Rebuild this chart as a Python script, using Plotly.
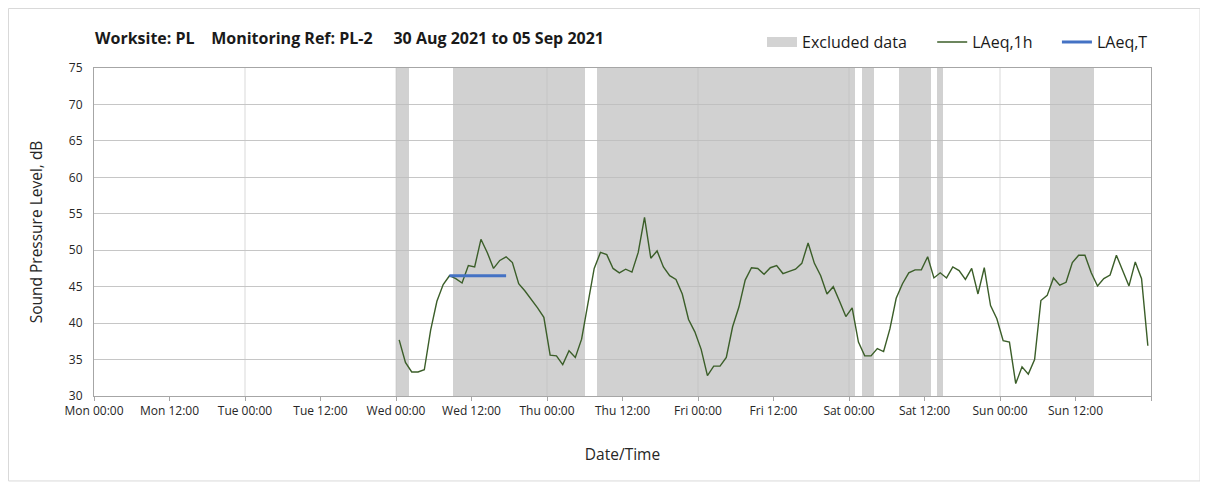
import pandas as pd
import plotly.graph_objects as go

# ---------------- data ----------------
series_start = "2021-09-01 00:30"
laeq_1h = [37.7, 34.6, 33.3, 33.3, 33.6, 39.0, 43.0, 45.3, 46.5, 46.1,
           45.5, 47.9, 47.7, 51.5, 49.7, 47.5, 48.6, 49.1, 48.3, 45.4,
           44.4, 43.3, 42.1, 40.8, 35.6, 35.5, 34.3, 36.2, 35.3, 37.8,
           42.9, 47.5, 49.7, 49.4, 47.5, 46.9, 47.4, 47.0, 49.7, 54.5,
           48.9, 49.9, 47.7, 46.5, 46.0, 44.0, 40.5, 38.8, 36.4, 32.8,
           34.1, 34.1, 35.3, 39.5, 42.2, 45.9, 47.6, 47.5, 46.7, 47.6,
           47.9, 46.8, 47.1, 47.4, 48.2, 51.0, 48.2, 46.5, 44.0, 45.0,
           43.0, 40.9, 42.1, 37.4, 35.5, 35.5, 36.5, 36.1, 39.2, 43.4,
           45.4, 46.9, 47.3, 47.3, 49.1, 46.2, 46.9, 46.2, 47.7, 47.2,
           46.0, 47.5, 44.0, 47.6, 42.4, 40.6, 37.6, 37.4, 31.7, 34.0,
           33.0, 35.0, 43.1, 43.8, 46.2, 45.2, 45.6, 48.3, 49.3, 49.3,
           46.9, 45.1, 46.1, 46.6, 49.3, 47.2, 45.1, 48.4, 46.1, 36.9]

laeq_t_times = ["2021-09-01 08:30", "2021-09-01 17:30"]
laeq_t_values = [46.5, 46.5]

excl_start = ["2021-09-01 00:00", "2021-09-01 09:00", "2021-09-02 08:00",
              "2021-09-04 02:00", "2021-09-04 08:00", "2021-09-04 14:00",
              "2021-09-05 08:00"]
excl_end = ["2021-09-01 02:00", "2021-09-02 06:00", "2021-09-04 01:00",
            "2021-09-04 04:00", "2021-09-04 13:00", "2021-09-04 15:00",
            "2021-09-05 15:00"]

x_start = "2021-08-30 00:00"
x_end = "2021-09-06 00:00"
tick_labels = ["Mon 00:00", "Mon 12:00", "Tue 00:00", "Tue 12:00",
               "Wed 00:00", "Wed 12:00", "Thu 00:00", "Thu 12:00",
               "Fri 00:00", "Fri 12:00", "Sat 00:00", "Sat 12:00",
               "Sun 00:00", "Sun 12:00", ""]
y_min, y_max = 30, 75

# ---------------- derived ----------------
times = pd.date_range(series_start, periods=len(laeq_1h), freq="h")
tick_vals = pd.date_range(x_start, periods=len(tick_labels), freq="12h")
day_lines = pd.date_range(x_start, x_end, freq="D")
s = pd.to_datetime(excl_start)
e = pd.to_datetime(excl_end)
excl_mid = s + (e - s) / 2
excl_width = [(b - a).total_seconds() * 1000 for a, b in zip(s, e)]

FONT = "Open Sans"
BAND = "#D3D3D3"
fig = go.Figure()

fig.add_trace(go.Bar(
    x=excl_mid, y=[y_max - y_min] * len(excl_mid), base=y_min,
    width=excl_width, name="Excluded data", showlegend=False,
    marker=dict(color="#BEBEBE", line=dict(width=0)), opacity=0.7,
    hoverinfo="skip"))
# legend swatch for excluded data (wide rectangle)
fig.add_trace(go.Scatter(
    x=[None], y=[None], mode="lines", name="Excluded data",
    line=dict(color=BAND, width=10), legend="legend"))

fig.add_trace(go.Scatter(
    x=times, y=laeq_1h, mode="lines", name="LAeq,1h",
    line=dict(color="#3B5E29", width=1.4), legend="legend2"))

fig.add_trace(go.Scatter(
    x=pd.to_datetime(laeq_t_times), y=laeq_t_values, mode="lines",
    name="LAeq,T", line=dict(color="#4472C4", width=3), legend="legend3"))

for d in day_lines[1:-1]:
    fig.add_shape(type="line", xref="x", yref="paper", x0=d, x1=d, y0=0, y1=1,
                  line=dict(color="#D9D9D9", width=1), layer="below")

# outer chart border
fig.add_shape(type="rect", xref="paper", yref="paper",
              x0=-0.0809, x1=1.0464, y0=-0.259, y1=1.1814,
              line=dict(color="#D9D9D9", width=1), layer="below")

leg_common = dict(orientation="h", xanchor="left", y=1.079, yanchor="middle",
                  font=dict(family=FONT, size=16, color="#1a1a1a"),
                  bgcolor="rgba(0,0,0,0)", borderwidth=0)

fig.update_layout(
    width=1208, height=488,
    margin=dict(l=86, r=65, t=60, b=100),
    paper_bgcolor="white", plot_bgcolor="white",
    barmode="overlay", bargap=0,
    font=dict(family=FONT, color="#262626"),
    title=dict(
        text="<b>Worksite: PL\u00a0\u00a0\u00a0 Monitoring Ref: PL-2\u00a0\u00a0\u00a0\u00a0 30 Aug 2021 to 05 Sep 2021</b>",
        x=87 / 1208, xanchor="left", y=1 - 30 / 488, yanchor="middle",
        font=dict(family=FONT, size=16, color="#1a1a1a")),
    legend=dict(x=0.632, **leg_common),
    legend2=dict(x=0.793, **leg_common),
    legend3=dict(x=0.911, **leg_common),
    showlegend=True,
)

fig.update_xaxes(
    type="date", range=[x_start, x_end],
    tickmode="array", tickvals=tick_vals, ticktext=tick_labels,
    ticks="outside", ticklen=4, tickcolor="#A6A6A6",
    tickfont=dict(family=FONT, size=12, color="#262626"),
    showgrid=False, showline=True, linecolor="#A6A6A6", linewidth=1,
    mirror=True, zeroline=False,
    title=dict(text="Date/Time", font=dict(family=FONT, size=15.5), standoff=30))

fig.update_yaxes(
    range=[y_min, y_max], dtick=5, tick0=30,
    tickfont=dict(family=FONT, size=12, color="#262626"),
    ticklabelstandoff=8,
    showgrid=True, gridcolor="#C6C6C6", gridwidth=1,
    showline=True, linecolor="#A6A6A6", mirror=True, zeroline=False,
    ticks="", title=dict(text="Sound Pressure Level, dB",
                         font=dict(family=FONT, size=15.5), standoff=22))

fig.write_html("out.html")
